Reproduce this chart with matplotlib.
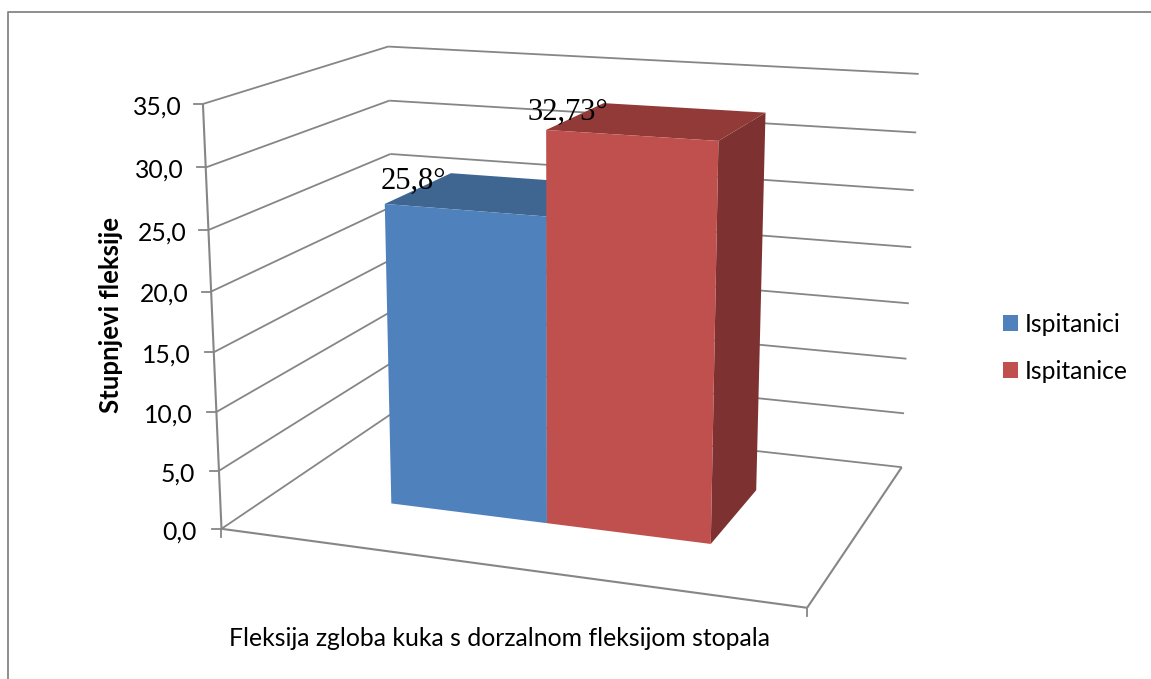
import matplotlib
matplotlib.use('Agg')
import matplotlib.pyplot as plt
from matplotlib.patches import Patch
import numpy as np

series_names = ['Ispitanici', 'Ispitanice']
series_values = [25.8, 32.73]
value_labels = ['25,8°', '32,73°']
series_front = ['#4F81BD', '#C0504D']
series_top = ['#3F6591', '#913A38']
series_side = ['#375A82', '#7D3231']
y_ticks = [0, 5, 10, 15, 20, 25, 30, 35]
x_title = 'Fleksija zgloba kuka s dorzalnom fleksijom stopala'
y_title = 'Stupnjevi fleksije'

# bars share the floor: gap 150% on each axis
bar_edges = [0.214, 0.5, 0.786]
depth_edges = [0.3, 0.7]

# box corners (x, depth, value) -> picture pixels, used to fit the perspective
box_world = [(0, 0, 0), (0, 0, 35), (0, 1, 35), (1, 1, 35), (1, 1, 0), (1, 0, 0),
             (0, 1, 0), (0, 0, 15), (1, 1, 15), (0, 1, 30), (0, 1, 25)]
box_pixel = [(221.7, 529.5), (203, 104), (388, 46.7), (919, 74.3), (901.7, 466.7),
             (806.7, 608.3), (396, 411), (213.9, 351), (908.9, 303), (389.2, 100.7), (390.3, 154)]


def fit_camera(world, pixel):
    rows = []
    for (X, Y, Z), (u, v) in zip(world, pixel):
        rows.append([X, Y, Z, 1, 0, 0, 0, 0, -u * X, -u * Y, -u * Z, -u])
        rows.append([0, 0, 0, 0, X, Y, Z, 1, -v * X, -v * Y, -v * Z, -v])
    return np.linalg.svd(np.array(rows, dtype=float))[2][-1].reshape(3, 4)


camera = fit_camera(box_world, box_pixel)


def proj(x, d, v):
    p = camera @ np.array([x, d, v, 1.0])
    return p[0] / p[2], p[1] / p[2]


def seg(ax, a, b, lw=1.3):
    pa, pb = proj(*a), proj(*b)
    ax.plot([pa[0], pb[0]], [pa[1], pb[1]], color='#868686', lw=lw, solid_capstyle='butt', zorder=1)


def face(ax, pts, color, z):
    xy = [proj(*p) for p in pts]
    ax.fill([q[0] for q in xy], [q[1] for q in xy], color=color, lw=0, zorder=z)


fig = plt.figure(figsize=(11.51, 6.79), dpi=100)
ax = fig.add_axes([0, 0, 1, 1])
ax.set_xlim(0, 1151)
ax.set_ylim(679, 0)
ax.axis('off')

# chart frame, only top and left show in the crop
ax.plot([8.5, 8.5, 1151], [679, 11.5, 11.5], color='#868686', lw=1.3, zorder=1)

for t in y_ticks:
    seg(ax, (0, 0, t), (0, 1, t))
    seg(ax, (0, 1, t), (1, 1, t))
    px, py = proj(0, 0, t)
    ax.plot([px - 9, px], [py, py], color='#868686', lw=1.3, zorder=1)
    ax.text(px - 21 - (35 - t) * 0.105, py + 3, f'{t:.1f}'.replace('.', ','), ha='right', va='center',
            fontsize=17.8, family='Lato', color='black')

seg(ax, (0, 0, 0), (0, 0, 35), 1.5)
seg(ax, (0, 0, 0), (1, 0, 0), 1.5)
seg(ax, (1, 0, 0), (1, 1, 0), 1.5)
for xe in [0, 1]:
    px, py = proj(xe, 0, 0)
    ax.plot([px, px], [py, py + 8], color='#868686', lw=1.3, zorder=1)

d0, d1 = depth_edges
label_shift = [(-4, -15), (-19, -10)]
for i, val in enumerate(series_values):
    x0, x1 = bar_edges[i], bar_edges[i + 1]
    z = 3 + i
    face(ax, [(x1, d0, 0), (x1, d1, 0), (x1, d1, val), (x1, d0, val)], series_side[i], z)
    face(ax, [(x0, d0, val), (x1, d0, val), (x1, d1, val), (x0, d1, val)], series_top[i], z)
    face(ax, [(x0, d0, 0), (x1, d0, 0), (x1, d0, val), (x0, d0, val)], series_front[i], z)
    lx, ly = proj(x0, d0, val)
    ax.text(lx + label_shift[i][0], ly + label_shift[i][1], value_labels[i], ha='left', va='baseline',
            fontsize=22, family='Liberation Serif', color='black', zorder=6)

ax.text(500, 638, x_title, ha='center', va='center', fontsize=17.8, family='Lato', color='black')
ax.text(111, 315, y_title, ha='center', va='center', rotation=90, fontsize=18.5, family='Lato',
        fontweight='bold', color='black')

handles = [Patch(color=c, lw=0) for c in series_front]
ax.legend(handles, series_names, loc='upper left', bbox_to_anchor=(1003 / 1151, 1 - 313 / 679),
          frameon=False, borderpad=0, borderaxespad=0, handlelength=0.6,
          handleheight=0.6, handletextpad=0.28, labelspacing=0.96, prop={'family': 'Lato', 'size': 17.8})

fig.savefig('out.png', dpi=100)
